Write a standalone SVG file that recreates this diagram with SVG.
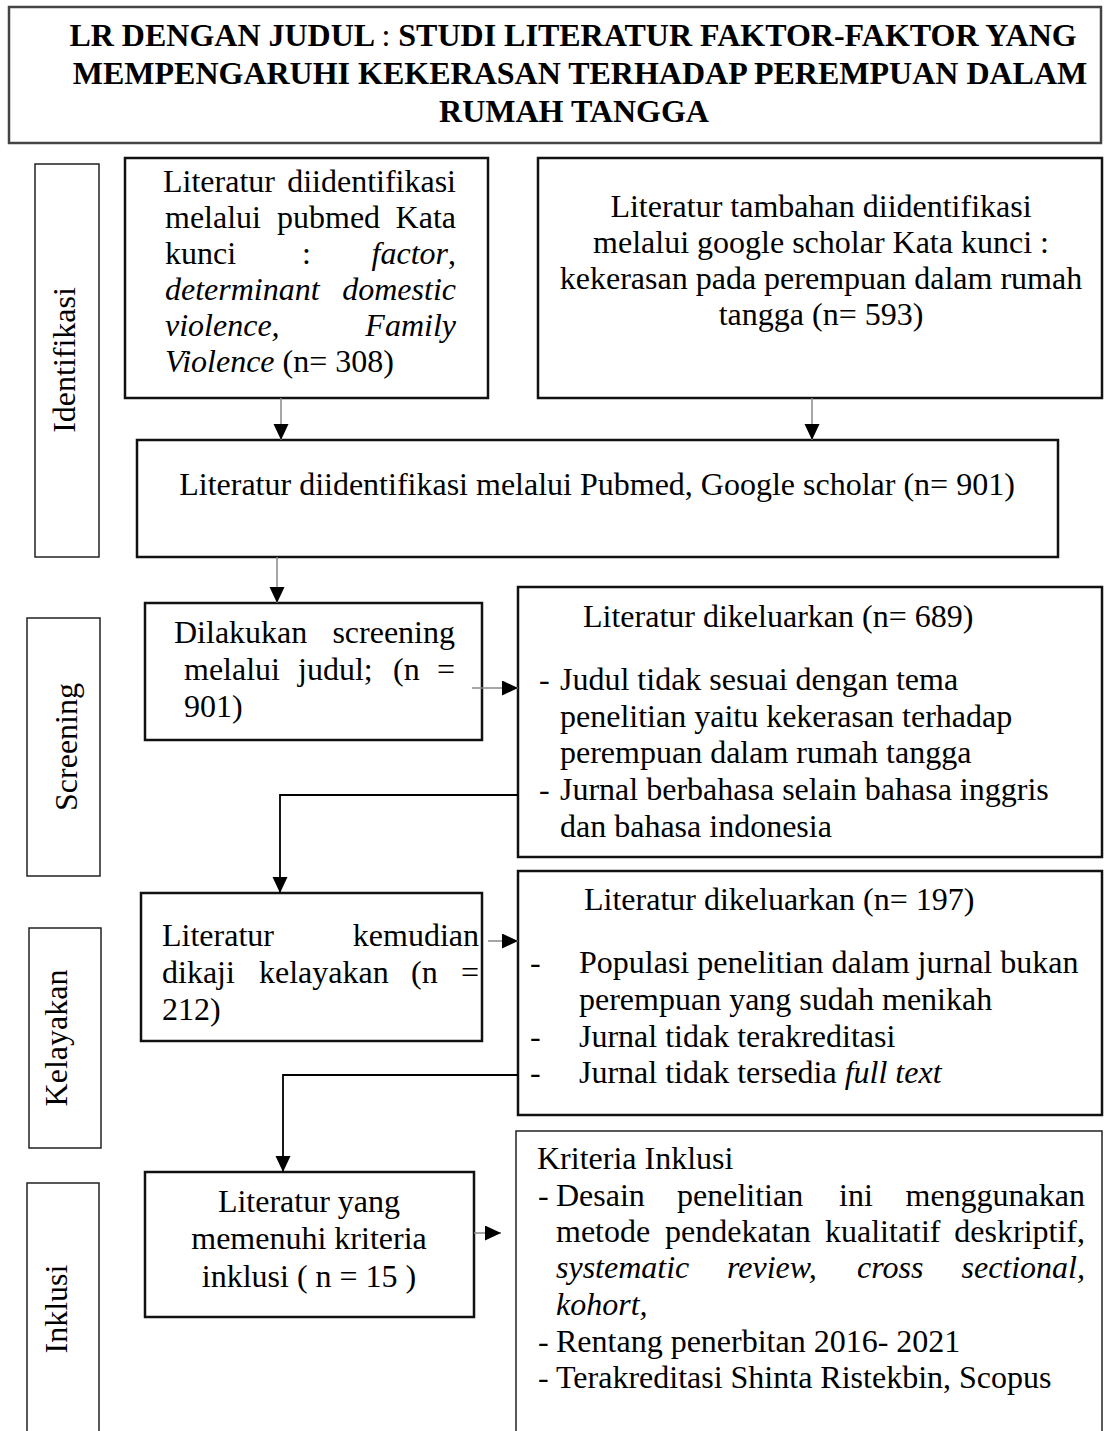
<svg xmlns="http://www.w3.org/2000/svg" width="1104" height="1431" viewBox="0 0 1104 1431">
<defs>
<style>
text{font-family:"Liberation Serif","Times New Roman",serif;font-size:32px;fill:#000}
.t{font-weight:bold}
.i{font-style:italic}
.m{text-anchor:middle}
.e{text-anchor:end}
.box{fill:none;stroke:#111;stroke-width:2.5}
.side{fill:none;stroke:#222;stroke-width:1.5}
.thin{fill:none;stroke:#222;stroke-width:1.5}
.stem{fill:none;stroke:#888;stroke-width:1.5}
.con{fill:none;stroke:#000;stroke-width:1.8}
</style>
<marker id="ah" markerUnits="userSpaceOnUse" markerWidth="16" markerHeight="16" refX="16" refY="7.5" orient="auto">
<path d="M0,0 L16,7.5 L0,15 z" fill="#000"/>
</marker>
</defs>
<rect width="1104" height="1431" fill="#fff"/>

<g id="title">
<rect x="9" y="7" width="1092" height="136" fill="none" stroke="#444" stroke-width="2.5"/>
<text class="t m" x="573" y="46">LR DENGAN JUDUL <tspan font-weight="normal">:</tspan> STUDI LITERATUR FAKTOR-FAKTOR YANG</text>
<text class="t m" x="580" y="84">MEMPENGARUHI KEKERASAN TERHADAP PEREMPUAN DALAM</text>
<text class="t m" x="574" y="122">RUMAH TANGGA</text>
</g>

<g id="stage-identifikasi">
<rect class="side" x="35" y="164" width="64" height="393"/>
<text class="m" transform="translate(75,360) rotate(-90)">Identifikasi</text>
</g>
<g id="stage-screening">
<rect class="side" x="27" y="618" width="73" height="258"/>
<text class="m" transform="translate(77,747) rotate(-90)">Screening</text>
</g>
<g id="stage-kelayakan">
<rect class="side" x="29" y="928" width="72" height="220"/>
<text class="m" transform="translate(67,1038) rotate(-90)">Kelayakan</text>
</g>
<g id="stage-inklusi">
<rect class="side" x="27" y="1183" width="72" height="260"/>
<text class="m" transform="translate(67,1309) rotate(-90)">Inklusi</text>
</g>

<g id="pubmed">
<rect class="box" x="125" y="158" width="363" height="240"/>
<text x="163" y="192">Literatur</text><text class="e" x="456" y="192">diidentifikasi</text>
<text x="165" y="228">melalui</text><text x="277" y="228">pubmed</text><text class="e" x="456" y="228">Kata</text>
<text x="165" y="264">kunci</text><text x="302" y="264">:</text><text class="e" x="456" y="264"><tspan class="i">factor</tspan>,</text>
<text class="i" x="165" y="300">determinant</text><text class="i e" x="456" y="300">domestic</text>
<text class="i" x="165" y="336">violence,</text><text class="i e" x="456" y="336">Family</text>
<text x="165" y="372"><tspan class="i">Violence</tspan> (n= 308)</text>
</g>

<g id="google">
<rect class="box" x="538" y="158" width="564" height="240"/>
<text class="m" x="821" y="217">Literatur tambahan diidentifikasi</text>
<text class="m" x="821" y="253">melalui google scholar Kata kunci :</text>
<text class="m" x="821" y="289">kekerasan pada perempuan dalam rumah</text>
<text class="m" x="821" y="325">tangga (n= 593)</text>
</g>

<g id="combined">
<rect class="box" x="137" y="440" width="921" height="117"/>
<text class="m" x="597" y="495">Literatur diidentifikasi melalui Pubmed, Google scholar (n= 901)</text>
</g>

<g id="screening">
<rect class="box" x="145" y="603" width="337" height="137"/>
<text x="174" y="643">Dilakukan</text><text class="e" x="455" y="643">screening</text>
<text x="184" y="680">melalui</text><text x="298" y="680">judul;</text><text x="393" y="680">(n</text><text class="e" x="455" y="680">=</text>
<text x="184" y="717">901)</text>
</g>

<g id="excluded-1">
<rect class="box" x="518" y="587" width="584" height="270"/>
<text x="583" y="627">Literatur dikeluarkan (n= 689)</text>
<text x="539" y="690">-</text><text x="560" y="690">Judul tidak sesuai dengan tema</text>
<text x="560" y="727">penelitian yaitu kekerasan terhadap</text>
<text x="560" y="763">perempuan dalam rumah tangga</text>
<text x="539" y="800">-</text><text x="560" y="800">Jurnal berbahasa selain bahasa inggris</text>
<text x="560" y="837">dan bahasa indonesia</text>
</g>

<g id="kelayakan">
<rect class="box" x="141" y="893" width="341" height="148"/>
<text x="162" y="946">Literatur</text><text class="e" x="479" y="946">kemudian</text>
<text x="162" y="983">dikaji</text><text x="259" y="983">kelayakan</text><text x="411" y="983">(n</text><text class="e" x="479" y="983">=</text>
<text x="162" y="1020">212)</text>
</g>

<g id="excluded-2">
<rect class="box" x="518" y="871" width="584" height="244"/>
<text x="584" y="910">Literatur dikeluarkan (n= 197)</text>
<text x="530" y="973">-</text><text x="579" y="973">Populasi penelitian dalam jurnal bukan</text>
<text x="579" y="1010">perempuan yang sudah menikah</text>
<text x="530" y="1047">-</text><text x="579" y="1047">Jurnal tidak terakreditasi</text>
<text x="530" y="1083">-</text><text x="579" y="1083">Jurnal tidak tersedia <tspan class="i">full text</tspan></text>
</g>

<g id="included">
<rect class="box" x="145" y="1172" width="329" height="145"/>
<text class="m" x="309" y="1212">Literatur yang</text>
<text class="m" x="309" y="1249">memenuhi kriteria</text>
<text class="m" x="309" y="1287">inklusi ( n = 15 )</text>
</g>

<g id="criteria">
<rect class="thin" x="516" y="1131" width="586" height="320"/>
<text x="537" y="1169">Kriteria Inklusi</text>
<text x="538" y="1206">-</text><text x="556" y="1206">Desain</text><text x="677" y="1206">penelitian</text><text x="839" y="1206">ini</text><text class="e" x="1085" y="1206">menggunakan</text>
<text x="556" y="1242">metode</text><text x="665" y="1242">pendekatan</text><text x="825" y="1242">kualitatif</text><text class="e" x="1085" y="1242">deskriptif,</text>
<text class="i" x="556" y="1278">systematic</text><text class="i" x="727" y="1278">review,</text><text class="i" x="857" y="1278">cross</text><text class="i e" x="1085" y="1278">sectional,</text>
<text class="i" x="556" y="1315">kohort,</text>
<text x="538" y="1352">-</text><text x="556" y="1352">Rentang penerbitan 2016- 2021</text>
<text x="538" y="1388">-</text><text x="556" y="1388">Terakreditasi Shinta Ristekbin, Scopus</text>
</g>

<g id="connectors">
<line class="stem" x1="281" y1="398" x2="281" y2="440" marker-end="url(#ah)"/>
<line class="stem" x1="812" y1="398" x2="812" y2="440" marker-end="url(#ah)"/>
<line class="stem" x1="277" y1="557" x2="277" y2="603" marker-end="url(#ah)"/>
<line class="stem" x1="472" y1="688" x2="518" y2="688" marker-end="url(#ah)"/>
<polyline class="con" points="518,795 280,795 280,893" marker-end="url(#ah)"/>
<line class="stem" x1="488" y1="941" x2="518" y2="941" marker-end="url(#ah)"/>
<polyline class="con" points="518,1075 283,1075 283,1172" marker-end="url(#ah)"/>
<line class="stem" x1="474" y1="1233" x2="501" y2="1233" marker-end="url(#ah)"/>
</g>
</svg>
